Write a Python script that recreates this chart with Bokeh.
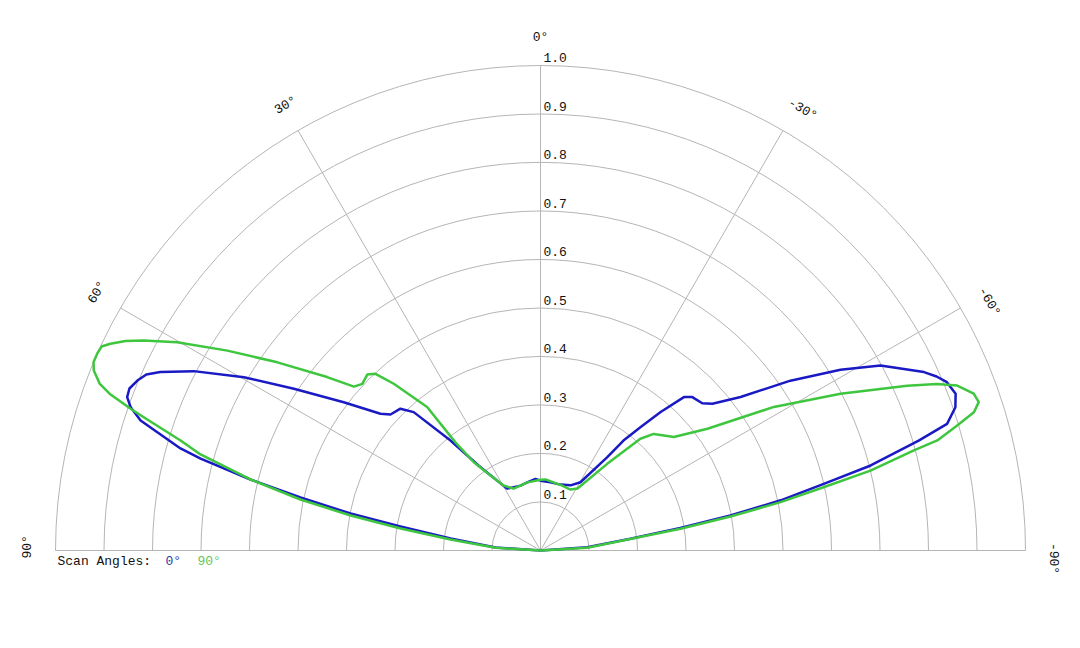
import numpy as np
from bokeh.plotting import figure
from bokeh.models import Range1d
from bokeh.embed import file_html
from bokeh.resources import INLINE
from bokeh.core.properties import value

# ---------------- data ----------------
# pattern for scan angle 0 deg: angle (deg, positive to the left) and normalised amplitude
theta_0 = [-90, -85.96, -82.6, -80.8, -79.56, -78.2, -76.75, -75.56, -73.8, -72.7,
           -70.95, -69.3, -67.5, -66.28, -65.05, -61.45, -58.94, -55.8, -52.5, -49.5, -47.7,
           -44.7, -43.07, -40.95, -39.04, -37.04, -35.55, -30.35, -24.8, -16.9, -8.3,
           0, 4.0, 11.0, 17.1, 28.4, 36.1, 39.3, 42.5, 44.65, 47.8,
           49.5, 53.0, 56.75, 59.7, 62.65, 64.86, 65.94, 67.14, 68.49, 69.65, 70.74, 72.0,
           73.43, 74.18, 74.86, 76.24, 77.55, 78.98, 80.27, 82.4, 86.2, 90]
r_0 = [0.0, 0.0965, 0.187, 0.292, 0.398, 0.506, 0.600, 0.703, 0.812, 0.878,
       0.905, 0.915, 0.907, 0.892, 0.872, 0.798, 0.722, 0.623, 0.520, 0.466, 0.451,
       0.445, 0.433, 0.378, 0.327, 0.284, 0.236, 0.163, 0.148, 0.142, 0.142,
       0.144, 0.148, 0.143, 0.140, 0.145, 0.217, 0.293, 0.387, 0.411, 0.4175,
       0.434, 0.508, 0.608, 0.708, 0.805, 0.866, 0.890, 0.902, 0.911, 0.909, 0.895, 0.867,
       0.802, 0.7715, 0.726, 0.6156, 0.5068, 0.399, 0.293, 0.187, 0.093, 0.0]

# pattern for scan angle 90 deg
theta_90 = [-90, -86.7, -81.2, -79.85, -78.6, -77.4, -76.4, -75.0, -74.5, -73.3,
            -72.3, -71.3, -70.1, -68.4, -67.2, -65.8, -62.4, -58.4, -53.9, -49.6, -47.0,
            -44.15, -41.8, -37.6, -30.8, -26.2, -18.45, -10.8, -4.0, 0, 10.8,
            23.5, 29.6, 33.7, 37.07, 38.2, 38.33, 41.35, 43.04, 44.56, 46.93,
            48.7, 50.9, 54.43, 57.45, 60.18, 62.1, 63.21, 64.32, 65.08, 65.98, 67.14, 68.05,
            69.26, 70.06, 70.9, 71.43, 73.0, 74.23, 76.24, 78.0, 79.56, 81.07, 83.03, 86.57, 90]
r_90 = [0.0, 0.0965, 0.292, 0.398, 0.505, 0.598, 0.700, 0.797, 0.849, 0.897,
        0.938, 0.954, 0.950, 0.924, 0.886, 0.829, 0.698, 0.565, 0.426, 0.361, 0.348,
        0.335, 0.309, 0.2255, 0.149, 0.140, 0.141, 0.143, 0.147, 0.146, 0.143,
        0.139, 0.154, 0.186, 0.228, 0.283, 0.377, 0.458, 0.4985, 0.509, 0.503,
        0.512, 0.567, 0.667, 0.766, 0.8635, 0.9255, 0.9585, 0.984, 0.998, 1.0, 1.0, 0.993,
        0.972, 0.943, 0.895, 0.863, 0.776, 0.7284, 0.6156, 0.506, 0.398, 0.292, 0.187, 0.093, 0.0]

ring_values = [0.1, 0.2, 0.3, 0.4, 0.5, 0.6, 0.7, 0.8, 0.9, 1.0]
ring_labels = ["0.1", "0.2", "0.3", "0.4", "0.5", "0.6", "0.7", "0.8", "0.9", "1.0"]
spoke_angles = [-90, -60, -30, 0, 30, 60, 90]
spoke_labels = ["-90°", "-60°", "-30°", "0°", "30°", "60°", "90°"]
legend_title = "Scan Angles:"
series_names = ["0°", "90°"]

# ---------------- layout / style ----------------
W, H = 1080, 648
S = 485.0           # pixels per unit radius
CX, CY = 540.0, 550.0
FONT = value("Liberation Mono")
GRID = "#b5b5b5"
BLUE = "#1a1ac4"
GREEN = "#3fc63f"

def to_xy(theta_deg, r):
    t = np.radians(np.asarray(theta_deg, dtype=float))
    r = np.asarray(r, dtype=float)
    return -r * np.sin(t), r * np.cos(t)

p = figure(width=W, height=H,
           x_range=Range1d(-CX / S, (W - CX) / S),
           y_range=Range1d(-(H - CY) / S, CY / S),
           output_backend="svg", toolbar_location=None,
           x_axis_location=None, y_axis_location=None,
           min_border=0, background_fill_color="white", border_fill_color="white")
p.outline_line_color = None
p.xgrid.visible = False
p.ygrid.visible = False

# rings
p.arc(x=0, y=0, radius=ring_values, start_angle=0, end_angle=np.pi,
      line_color=GRID, line_width=1)
# spokes
sx, sy = to_xy(spoke_angles, [1.0] * len(spoke_angles))
p.segment(x0=[0] * len(sx), y0=[0] * len(sx), x1=sx, y1=sy, line_color=GRID, line_width=1)

# curves
bx, by = to_xy(theta_0, r_0)
gx, gy = to_xy(theta_90, r_90)
p.line(bx, by, line_color=BLUE, line_width=2.5, line_join="round")
p.line(gx, gy, line_color=GREEN, line_width=2.5, line_join="round")

# ring labels
p.text(x=[3 / S] * len(ring_values), y=[v + 8 / S for v in ring_values], text=ring_labels,
       text_align="left", text_baseline="middle", text_font=FONT,
       text_font_size="13px", text_color="#111111")

# angle labels
label_shift = {-90: -0.9, -60: -1.0, -30: -0.7, 0: 0.0, 30: -0.2, 60: -0.2, 90: -0.4}
lab_ang = [a + label_shift[a] for a in spoke_angles]
lx, ly = to_xy(lab_ang, [513 / S] * len(lab_ang))
p.text(x=lx, y=ly, text=spoke_labels, angle=list(np.radians(spoke_angles)),
       text_align="center", text_baseline="middle", text_font=FONT,
       text_font_size="13px", text_color="#111111")

# legend
ly0 = (CY - 560.5) / S
p.text(x=[(57 - CX) / S], y=[ly0], text=[legend_title], text_align="left",
       text_baseline="middle", text_font=FONT, text_font_size="13px", text_color="#111111")
p.text(x=[(165 - CX) / S, (197 - CX) / S], y=[ly0, ly0], text=series_names,
       text_align="left", text_baseline="middle", text_font=FONT, text_font_size="13px",
       text_color=["#2a3aaa", "#5cc85c"])

open("out.html", "w").write(file_html(p, INLINE))
